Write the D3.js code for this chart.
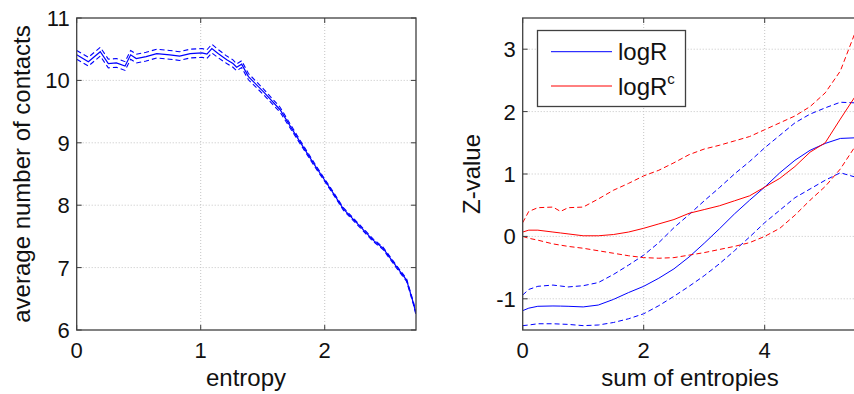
<!DOCTYPE html>
<html><head><meta charset="utf-8">
<script src="https://cdn.jsdelivr.net/npm/d3@7"></script>
<style>
html,body{margin:0;padding:0;background:#fff;}
text{font-family:"Liberation Sans",Arial,Helvetica,sans-serif;fill:#111;}
</style></head>
<body><svg id="c" width="854" height="394"></svg>
<script>
// ---- Left panel data: entropy vs average number of contacts ----
const entropyX = [0, 0.094, 0.19, 0.255, 0.32, 0.39, 0.435, 0.48, 0.56, 0.645, 0.75, 0.83, 0.915, 1.01, 1.05, 1.09, 1.14, 1.21, 1.26, 1.29, 1.33, 1.385, 1.505, 1.64, 1.774, 1.91, 2.0, 2.07, 2.15, 2.285, 2.39, 2.47, 2.58, 2.66, 2.715, 2.735];
const contactsMean = [10.41, 10.30, 10.46, 10.27, 10.28, 10.23, 10.41, 10.35, 10.38, 10.43, 10.41, 10.39, 10.43, 10.44, 10.42, 10.51, 10.43, 10.33, 10.27, 10.21, 10.26, 10.06, 9.82, 9.53, 9.10, 8.67, 8.40, 8.19, 7.94, 7.66, 7.44, 7.31, 7.01, 6.80, 6.43, 6.27];
const contactsCI = [0.07, 0.07, 0.07, 0.07, 0.07, 0.07, 0.07, 0.07, 0.07, 0.07, 0.07, 0.07, 0.07, 0.07, 0.07, 0.07, 0.065, 0.06, 0.06, 0.055, 0.055, 0.05, 0.045, 0.04, 0.03, 0.025, 0.02, 0.02, 0.02, 0.02, 0.02, 0.02, 0.02, 0.02, 0.02, 0.02];
const leftXTicks = [0, 1, 2];
const leftYTicks = [6, 7, 8, 9, 10, 11];

// ---- Right panel data: sum of entropies vs Z-value ----
const sumEntropy = [0, 0.1, 0.25, 0.5, 0.625, 0.75, 1.0, 1.25, 1.5, 1.75, 2.0, 2.25, 2.5, 2.75, 3.0, 3.25, 3.5, 3.75, 4.0, 4.25, 4.5, 4.75, 5.0, 5.25, 5.5];
const logR     = [-1.19, -1.15, -1.12, -1.115, -1.117, -1.12, -1.13, -1.10, -1.01, -0.90, -0.80, -0.67, -0.52, -0.33, -0.11, 0.12, 0.36, 0.58, 0.79, 1.02, 1.22, 1.38, 1.49, 1.57, 1.58];
const logRHi   = [-0.94, -0.85, -0.80, -0.78, -0.795, -0.81, -0.79, -0.74, -0.61, -0.46, -0.30, -0.10, 0.14, 0.35, 0.57, 0.78, 1.00, 1.20, 1.42, 1.62, 1.82, 1.96, 2.06, 2.15, 2.14];
const logRLo   = [-1.43, -1.42, -1.40, -1.40, -1.405, -1.41, -1.43, -1.42, -1.38, -1.32, -1.24, -1.11, -0.96, -0.80, -0.63, -0.44, -0.23, -0.01, 0.22, 0.42, 0.62, 0.76, 0.90, 1.02, 0.95];
const logRc    = [0.07, 0.10, 0.10, 0.07, 0.055, 0.04, 0.01, 0.01, 0.03, 0.07, 0.13, 0.20, 0.27, 0.37, 0.43, 0.49, 0.57, 0.65, 0.79, 0.93, 1.12, 1.35, 1.50, 1.88, 2.25];
const logRcHi  = [0.22, 0.40, 0.46, 0.47, 0.40, 0.46, 0.47, 0.60, 0.74, 0.85, 0.97, 1.06, 1.18, 1.31, 1.40, 1.46, 1.53, 1.60, 1.71, 1.82, 1.93, 2.08, 2.30, 2.65, 3.28];
const logRcLo  = [0.0, -0.03, -0.06, -0.12, -0.14, -0.16, -0.19, -0.23, -0.27, -0.31, -0.34, -0.35, -0.34, -0.30, -0.26, -0.21, -0.16, -0.10, 0.0, 0.13, 0.34, 0.58, 0.80, 1.08, 1.45];
const rightXTicks = [0, 2, 4];
const rightYTicks = [-1, 0, 1, 2, 3];
const legendLabels = ["logR", "logR"];

const svg = d3.select("#c");
const BLUE = "#0000ff", RED = "#ff0000";

function panel(o) {
  const g = svg.append("g");
  const x = d3.scaleLinear().domain(o.xd).range(o.xr);
  const y = d3.scaleLinear().domain(o.yd).range(o.yr);
  const [x0, x1] = o.xr, [y0, y1] = [o.yr[1], o.yr[0]];
  // grid
  const grid = g.append("g").attr("stroke", "#c4c4c4").attr("stroke-width", 1).attr("stroke-dasharray", "1,2");
  o.xt.forEach(t => { if (t > o.xd[0] && t < o.xd[1]) grid.append("line").attr("x1", x(t)).attr("x2", x(t)).attr("y1", y0).attr("y2", y1); });
  o.yt.forEach(t => { if (t > o.yd[0] && t < o.yd[1]) grid.append("line").attr("y1", y(t)).attr("y2", y(t)).attr("x1", x0).attr("x2", x1); });
  // clip
  const cid = "clip" + o.id;
  svg.append("clipPath").attr("id", cid).append("rect").attr("x", x0).attr("y", y0).attr("width", x1 - x0).attr("height", y1 - y0);
  const lines = g.append("g").attr("clip-path", `url(#${cid})`);
  o.series.forEach(s => {
    const line = d3.line().x((d, i) => x(s.x[i])).y(d => y(d));
    lines.append("path").attr("d", line(s.y)).attr("fill", "none")
      .attr("stroke", s.color).attr("stroke-width", s.w || 1)
      .attr("stroke-dasharray", s.dash ? "5,3" : null);
  });
  // axes (ticks inward, box)
  const tl = 5;
  const ax = g.append("g").attr("stroke", "#3c3c3c").attr("stroke-width", 1);
  o.xt.forEach(t => {
    ax.append("line").attr("x1", x(t)).attr("x2", x(t)).attr("y1", y1).attr("y2", y1 - tl);
    ax.append("line").attr("x1", x(t)).attr("x2", x(t)).attr("y1", y0).attr("y2", y0 + tl);
  });
  o.yt.forEach(t => {
    ax.append("line").attr("x1", x0).attr("x2", x0 + tl).attr("y1", y(t)).attr("y2", y(t));
    ax.append("line").attr("x1", x1).attr("x2", x1 - tl).attr("y1", y(t)).attr("y2", y(t));
  });
  g.append("rect").attr("x", x0).attr("y", y0).attr("width", x1 - x0).attr("height", y1 - y0)
    .attr("fill", "none").attr("stroke", "#404040").attr("stroke-width", 1.3);
  // tick labels
  o.xt.forEach(t => g.append("text").attr("x", x(t)).attr("y", y1 + 28).attr("text-anchor", "middle").attr("font-size", 22).text(t));
  o.yt.forEach(t => g.append("text").attr("x", x0 - 7).attr("y", y(t) + 8).attr("text-anchor", "end").attr("font-size", 22).text(t));
  // axis labels
  g.append("text").attr("x", o.xlx).attr("y", 386).attr("text-anchor", "middle").attr("font-size", 24).text(o.xl);
  g.append("text").attr("transform", `translate(${o.ylx},${(y0 + y1) / 2}) rotate(-90)`).attr("text-anchor", "middle").attr("font-size", 24).text(o.yl);
  return {x, y, g};
}

const contactsHi = contactsMean.map((v, i) => v + contactsCI[i]);
const contactsLo = contactsMean.map((v, i) => v - contactsCI[i]);

panel({
  id: "L", xd: [0, 2.736], xr: [76.7, 416], yd: [6, 11], yr: [330, 18],
  xt: leftXTicks, yt: leftYTicks, xl: "entropy", yl: "average number of contacts", xlx: 246, ylx: 30,
  series: [
    {x: entropyX, y: contactsHi, color: BLUE, dash: true, w: 1.1},
    {x: entropyX, y: contactsLo, color: BLUE, dash: true, w: 1.1},
    {x: entropyX, y: contactsMean, color: BLUE, w: 1.2}
  ]
});

panel({
  id: "R", xd: [0, 6], xr: [522.7, 885.7], yd: [-1.5, 3.5], yr: [330, 18],
  xt: rightXTicks, yt: rightYTicks, xl: "sum of entropies", yl: "Z-value", xlx: 690, ylx: 480,
  series: [
    {x: sumEntropy, y: logRHi, color: BLUE, dash: true},
    {x: sumEntropy, y: logRLo, color: BLUE, dash: true},
    {x: sumEntropy, y: logR, color: BLUE},
    {x: sumEntropy, y: logRcHi, color: RED, dash: true},
    {x: sumEntropy, y: logRcLo, color: RED, dash: true},
    {x: sumEntropy, y: logRc, color: RED}
  ]
});

// legend
const lg = svg.append("g");
lg.append("rect").attr("x", 537.5).attr("y", 30.5).attr("width", 148).attr("height", 76)
  .attr("fill", "#fff").attr("stroke", "#404040").attr("stroke-width", 1.3);
[[BLUE, 51.7, 59.5], [RED, 86, 95]].forEach(([c, ly, ty], i) => {
  lg.append("line").attr("x1", 551).attr("x2", 612).attr("y1", ly).attr("y2", ly).attr("stroke", c).attr("stroke-width", 1);
  const t = lg.append("text").attr("x", 618).attr("y", ty).attr("font-size", 24).text(legendLabels[i]);
  if (i === 1) t.append("tspan").attr("dy", -11).attr("font-size", 15).text("c");
});
</script></body></html>
